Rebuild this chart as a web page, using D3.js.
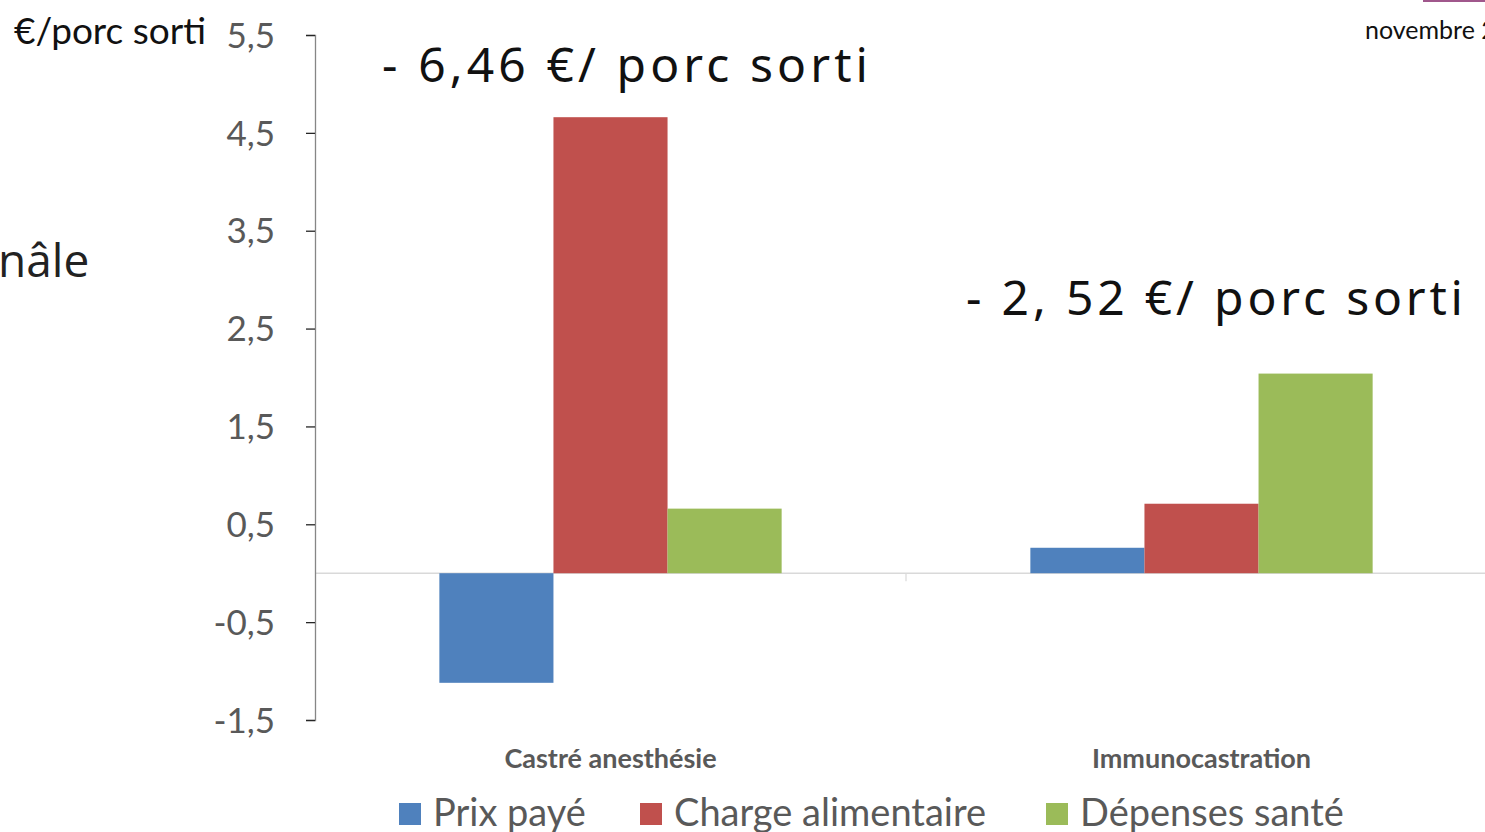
<!DOCTYPE html>
<html>
<head>
<meta charset="utf-8">
<script src="https://cdn.jsdelivr.net/npm/d3@7"></script>
<style>
  html, body { margin: 0; padding: 0; background: #fff; overflow: hidden; }
  svg { display: block; }
</style>
</head>
<body>
<svg id="chart" width="1485" height="832"></svg>
<script>
// chart data
const categories = ['Castré anesthésie', 'Immunocastration'];
const seriesNames = ['Prix payé', 'Charge alimentaire', 'Dépenses santé'];
const seriesColors = ['#4F81BD', '#C0504D', '#9BBB59'];
const prixPaye = [-1.12, 0.26];
const chargeAlimentaire = [4.66, 0.71];
const depensesSante = [0.66, 2.04];
const tickValues = [-1.5, -0.5, 0.5, 1.5, 2.5, 3.5, 4.5, 5.5];
const annotations = ['- 6,46 €/ porc sorti', '- 2, 52 €/ porc sorti'];

const seriesValues = [prixPaye, chargeAlimentaire, depensesSante];

const
  svg = d3.select('#chart'),
  W = 1485,
  plotLeft = 315,
  plotTop = 35,
  plotBottom = 720,
  plotRight = 1497;

const y = d3.scaleLinear().domain([-1.5, 5.5]).range([plotBottom, plotTop]);

const x0 = d3.scaleBand().domain(categories).range([plotLeft, plotRight]).padding(0);
const x1 = d3.scaleBand()
  .domain(seriesNames)
  .range([0, x0.bandwidth()])
  .paddingInner(0)
  .paddingOuter(1.09);

// zero line
svg.append('line')
  .attr('x1', plotLeft).attr('x2', W)
  .attr('y1', y(0)).attr('y2', y(0))
  .attr('stroke', '#d9d9d9').attr('stroke-width', 1.5);

// category separator tick on the zero line
svg.append('line')
  .attr('x1', x0(categories[1])).attr('x2', x0(categories[1]))
  .attr('y1', y(0)).attr('y2', y(0) + 8)
  .attr('stroke', '#d9d9d9').attr('stroke-width', 1.2);

// bars
const groups = svg.append('g')
  .selectAll('g')
  .data(categories)
  .join('g')
  .attr('transform', (c) => `translate(${x0(c)},0)`);

groups.selectAll('rect')
  .data((c, ci) => seriesNames.map((s, si) => ({ s, si, v : seriesValues[si][ci] })))
  .join('rect')
  .attr('x', (d) => x1(d.s))
  .attr('width', x1.bandwidth())
  .attr('y', (d) => y(Math.max(0, d.v)))
  .attr('height', (d) => Math.abs(y(d.v) - y(0)))
  .attr('fill', (d) => seriesColors[d.si]);

// y axis
const axis = svg.append('g')
  .attr('transform', `translate(${plotLeft},0)`)
  .call(d3.axisLeft(y)
    .tickValues(tickValues)
    .tickSize(9)
    .tickPadding(31)
    .tickFormat((d) => String(d).replace('.', ',')));

axis.select('.domain').attr('stroke', '#868686').attr('stroke-width', 1.3);
axis.selectAll('.tick line').attr('stroke', '#262626').attr('stroke-width', 1.3);
axis.selectAll('.tick text')
  .attr('fill', '#595959')
  .style('font-family', 'Lato, sans-serif')
  .style('font-size', '35px')
  .attr('dy', '0.35em');

// category labels
svg.append('g')
  .selectAll('text')
  .data(categories)
  .join('text')
  .attr('x', (c) => x0(c) + x0.bandwidth() / 2)
  .attr('y', 768)
  .attr('text-anchor', 'middle')
  .attr('fill', '#595959')
  .style('font-family', 'Lato, sans-serif')
  .style('font-weight', 'bold')
  .style('font-size', '27px')
  .text((c) => c);

// legend
const legendX = [399, 640, 1046];
const legend = svg.append('g')
  .selectAll('g')
  .data(seriesNames)
  .join('g')
  .attr('transform', (s, i) => `translate(${legendX[i]},803)`);

legend.append('rect')
  .attr('width', 22).attr('height', 22)
  .attr('fill', (s, i) => seriesColors[i]);

legend.append('text')
  .attr('x', 34)
  .attr('y', 23)
  .attr('fill', '#595959')
  .style('font-family', 'Lato, sans-serif')
  .style('font-size', '38px')
  .text((s) => s);

// unit label
svg.append('text')
  .attr('x', 14).attr('y', 44)
  .attr('fill', '#111')
  .style('font-family', 'Lato, sans-serif')
  .style('font-size', '37px')
  .text('€/porc sorti');

// slide leftovers
svg.append('text')
  .attr('x', -2).attr('y', 277)
  .attr('fill', '#222')
  .style('font-family', '"Open Sans", sans-serif')
  .style('font-size', '46px')
  .text('nâle');

svg.append('text')
  .attr('x', 1365).attr('y', 39)
  .attr('fill', '#111')
  .style('font-family', 'Lato, sans-serif')
  .style('font-size', '25px')
  .text('novembre 2');

svg.append('rect')
  .attr('x', 1423).attr('y', 0)
  .attr('width', 62).attr('height', 2)
  .attr('fill', '#a0578c');

// annotations
const annot = [
  { x : 382, y : 82, w : 486, t : annotations[0] },
  { x : 966, y : 315, w : 497, t : annotations[1] }
];

svg.append('g')
  .selectAll('text')
  .data(annot)
  .join('text')
  .attr('x', (d) => d.x)
  .attr('y', (d) => d.y)
  .attr('fill', '#111')
  .style('font-family', '"Noto Sans", sans-serif')
  .style('font-size', '48px')
  .attr('textLength', (d) => d.w)
  .attr('lengthAdjust', 'spacing')
  .text((d) => d.t);
</script>
</body>
</html>
